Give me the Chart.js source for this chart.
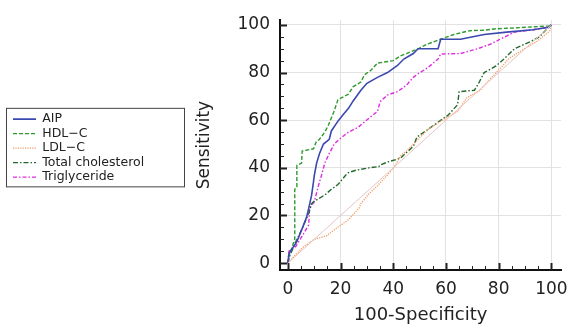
<!DOCTYPE html>
<html>
<head>
<meta charset="utf-8">
<script src="https://cdn.jsdelivr.net/npm/chart.js@4.4.1/dist/chart.umd.min.js"></script>
<style>
  html, body { margin: 0; padding: 0; background: #fff; }
  #wrap { width: 577px; height: 329px; position: relative; }
</style>
</head>
<body>
<div id="wrap"><canvas id="rocChart"></canvas></div>
<script>
// curvas ROC (100-Specificity, Sensitivity)
const aipX = [0, 0.4, 3.4, 4.5, 5.6, 7, 7.9, 9, 9.7, 10, 10.9, 12, 13.5, 15.7, 16.5, 19, 21, 23, 24.7, 27.7, 30, 34, 37.8, 41.6, 44, 47.6, 49.4, 57, 58, 65.5, 74.5, 83, 93, 99, 100];
const aipY = [0, 4, 9, 12, 15, 19, 23, 28.5, 34, 36.7, 42, 46, 50, 52, 55.5, 59.6, 62.4, 65, 68, 72.6, 75.5, 78, 80, 83, 85.7, 88, 90, 90, 94, 94, 96, 97, 98, 99, 100];

const hdlX = [0, 0.4, 2.6, 2.6, 3.4, 3.4, 5.2, 5.4, 9.7, 10.8, 12, 14, 15.4, 17.6, 19, 23, 24.7, 27.7, 29, 31.5, 34, 40, 42.7, 45, 49.4, 53, 58, 63, 69, 74.5, 79, 87, 99, 100];
const hdlY = [0, 3, 10, 31, 32, 41, 42, 47, 48, 51, 52, 55, 58, 64, 68.6, 71, 74, 76, 79, 81, 84, 85, 87, 88, 90, 92, 94, 96, 97.6, 97.8, 98.4, 98.8, 99.6, 100];

const ldlX = [0, 2, 5.6, 10, 14.6, 17.6, 19.5, 23, 27, 27.7, 30.7, 34, 37.8, 40.8, 42.7, 45, 47.6, 53, 58, 64.4, 68, 73, 77, 80.5, 84, 89.5, 94.4, 99.5, 100];
const ldlY = [0, 2.5, 6.5, 10, 11.4, 14, 15.5, 18.2, 23, 25, 29, 32.5, 37, 41, 45, 47, 50, 56, 59.6, 63.7, 69.5, 72.6, 77.6, 81.6, 86, 89.8, 93, 97.6, 100];

const tcX = [0, 0.7, 2.6, 5.2, 7.9, 9, 10, 14, 16.5, 19, 22, 23, 25.8, 30.7, 34.5, 35, 38, 42.7, 44.6, 47.6, 49, 53, 58, 60.7, 64.4, 65, 70.8, 72, 74.5, 79, 82, 86, 92, 95.5, 98, 100];
const tcY = [0, 3, 8, 14, 20.8, 25, 26, 28.6, 31, 33, 37, 38, 39, 40, 40.5, 41.2, 42.5, 44, 46, 49, 53, 56, 60, 62, 66.5, 72, 72.6, 74.7, 80, 82.8, 85.7, 90, 93, 95, 98, 100];

const tgX = [0, 0.4, 3, 5.2, 7.9, 8.2, 10, 11.6, 12.7, 14, 15.7, 17.6, 19.5, 23, 26.6, 30.3, 34, 35, 37.8, 41.6, 45, 47.6, 49.4, 53, 57, 58, 65.5, 72, 77, 80.5, 86, 93, 99, 100];
const tgY = [0, 5, 7, 11, 16, 23, 25.7, 32.6, 36.7, 42, 46, 50, 52, 55, 57, 60.4, 63.7, 67.8, 70.6, 72, 74.7, 78, 79.5, 82, 85.7, 87.8, 88, 90, 92, 94, 97, 98, 99, 100];

const refX = [0, 100];
const refY = [0, 100];

const tickValues = [0, 5, 10, 15, 20, 25, 30, 35, 40, 45, 50, 55, 60, 65, 70, 75, 80, 85, 90, 95, 100];

function pts(xs, ys) {
  return xs.map((x, i) => ({ x: x, y: ys[i] }));
}

Chart.defaults.font.family = "'DejaVu Sans', sans-serif";
Chart.defaults.color = '#222';

// ticks hacia adentro + marco de la leyenda
const rocExtras = {
  id: 'rocExtras',
  afterDraw(chart) {
    const ctx = chart.ctx;
    const xs = chart.scales.x, ys = chart.scales.y;
    ctx.save();
    ctx.strokeStyle = '#222';
    xs.ticks.forEach(t => {
      const major = t.value % 20 === 0;
      const px = Math.round(xs.getPixelForValue(t.value)) + 0.5;
      ctx.lineWidth = major ? 2 : 1;
      ctx.beginPath();
      ctx.moveTo(px, xs.top);
      ctx.lineTo(px, xs.top - (major ? 7 : 4));
      ctx.stroke();
    });
    ys.ticks.forEach(t => {
      const major = t.value % 20 === 0;
      const py = Math.round(ys.getPixelForValue(t.value)) + 0.5;
      ctx.lineWidth = major ? 2 : 1;
      ctx.beginPath();
      ctx.moveTo(ys.right, py);
      ctx.lineTo(ys.right + (major ? 7 : 4), py);
      ctx.stroke();
    });
    const lg = chart.legend;
    if (lg && lg.legendHitBoxes.length) {
      const hb = lg.legendHitBoxes;
      const top = hb[0].top - 5;
      const bottom = hb[hb.length - 1].top + hb[hb.length - 1].height + 3;
      ctx.lineWidth = 1;
      ctx.strokeStyle = '#444';
      ctx.strokeRect(lg.left - 4.5, top + 0.5, 178, bottom - top);
    }
    ctx.restore();
  }
};

const ctx = document.getElementById('rocChart').getContext('2d');
new Chart(ctx, {
  type: 'scatter',
  data: {
    datasets: [
      { label: 'ref', data: pts(refX, refY), borderColor: '#e6c4c4', borderWidth: 1, showLine: true, pointRadius: 0 },
      { label: 'AIP', data: pts(aipX, aipY), borderColor: '#3a48b0', borderWidth: 1.6, showLine: true, pointRadius: 0 },
      { label: 'HDL\u2212C', data: pts(hdlX, hdlY), borderColor: '#2e9a2e', borderWidth: 1.4, borderDash: [4, 2], showLine: true, pointRadius: 0 },
      { label: 'LDL\u2212C', data: pts(ldlX, ldlY), borderColor: '#f39a62', borderWidth: 1.3, borderDash: [1.2, 1.2], showLine: true, pointRadius: 0 },
      { label: 'Total cholesterol', data: pts(tcX, tcY), borderColor: '#23692c', borderWidth: 1.4, borderDash: [5, 2, 1.5, 2], showLine: true, pointRadius: 0 },
      { label: 'Triglyceride', data: pts(tgX, tgY), borderColor: '#e02ae0', borderWidth: 1.4, borderDash: [4, 2, 1.5, 2], showLine: true, pointRadius: 0 }
    ]
  },
  options: {
    responsive: true,
    maintainAspectRatio: false,
    animation: false,
    layout: { padding: { left: 11, top: 13, right: 12, bottom: 0 } },
    plugins: {
      tooltip: { enabled: false },
      legend: {
        position: 'left',
        fullSize: false,
        // titulo vacio solo para bajar un poco la leyenda
        title: { display: true, text: '', font: { size: 5 }, padding: 0 },
        labels: {
          usePointStyle: true,
          pointStyle: 'line',
          pointStyleWidth: 23,
          padding: 2,
          color: '#222',
          font: { size: 12.5 },
          filter: item => item.text !== 'ref',
          // con usePointStyle el item no trae el borderDash del dataset
          generateLabels: chart => {
            const items = Chart.defaults.plugins.legend.labels.generateLabels(chart);
            items.forEach(it => {
              const ds = chart.data.datasets[it.datasetIndex];
              it.lineDash = ds.borderDash || [];
              it.strokeStyle = ds.borderColor;
              it.lineWidth = ds.borderWidth;
            });
            return items;
          }
        }
      }
    },
    scales: {
      x: {
        type: 'linear',
        min: -3,
        max: 103.7,
        afterBuildTicks: s => { s.ticks = tickValues.map(v => ({ value: v })); },
        afterFit: s => { s.height = 59; },
        ticks: {
          autoSkip: false,
          maxRotation: 0,
          padding: 9,
          color: '#222',
          font: { size: 17 },
          callback: v => (v % 20 === 0 ? v : '')
        },
        grid: {
          drawTicks: false,
          color: c => (c.tick && c.tick.value > 0 && c.tick.value % 20 === 0 ? '#e2e2e2' : 'rgba(0,0,0,0)')
        },
        border: { color: '#111', width: 2 },
        title: { display: true, text: '100-Specificity', color: '#222', font: { size: 18 }, padding: { top: 0, bottom: 3 } }
      },
      y: {
        type: 'linear',
        min: -2.9,
        max: 102,
        afterBuildTicks: s => { s.ticks = tickValues.map(v => ({ value: v })); },
        afterFit: s => { s.width = 280 - 11 - s.chart.legend.width; },
        ticks: {
          autoSkip: false,
          padding: 10,
          color: '#222',
          font: { size: 17 },
          callback: v => (v % 20 === 0 ? v : '')
        },
        grid: {
          drawTicks: false,
          color: c => (c.tick && c.tick.value > 0 && c.tick.value % 20 === 0 ? '#e2e2e2' : 'rgba(0,0,0,0)')
        },
        border: { color: '#111', width: 2 },
        title: { display: true, text: 'Sensitivity', color: '#222', font: { size: 17 }, padding: { top: 45, bottom: 0 } }
      }
    }
  },
  plugins: [rocExtras]
});
</script>
</body>
</html>
